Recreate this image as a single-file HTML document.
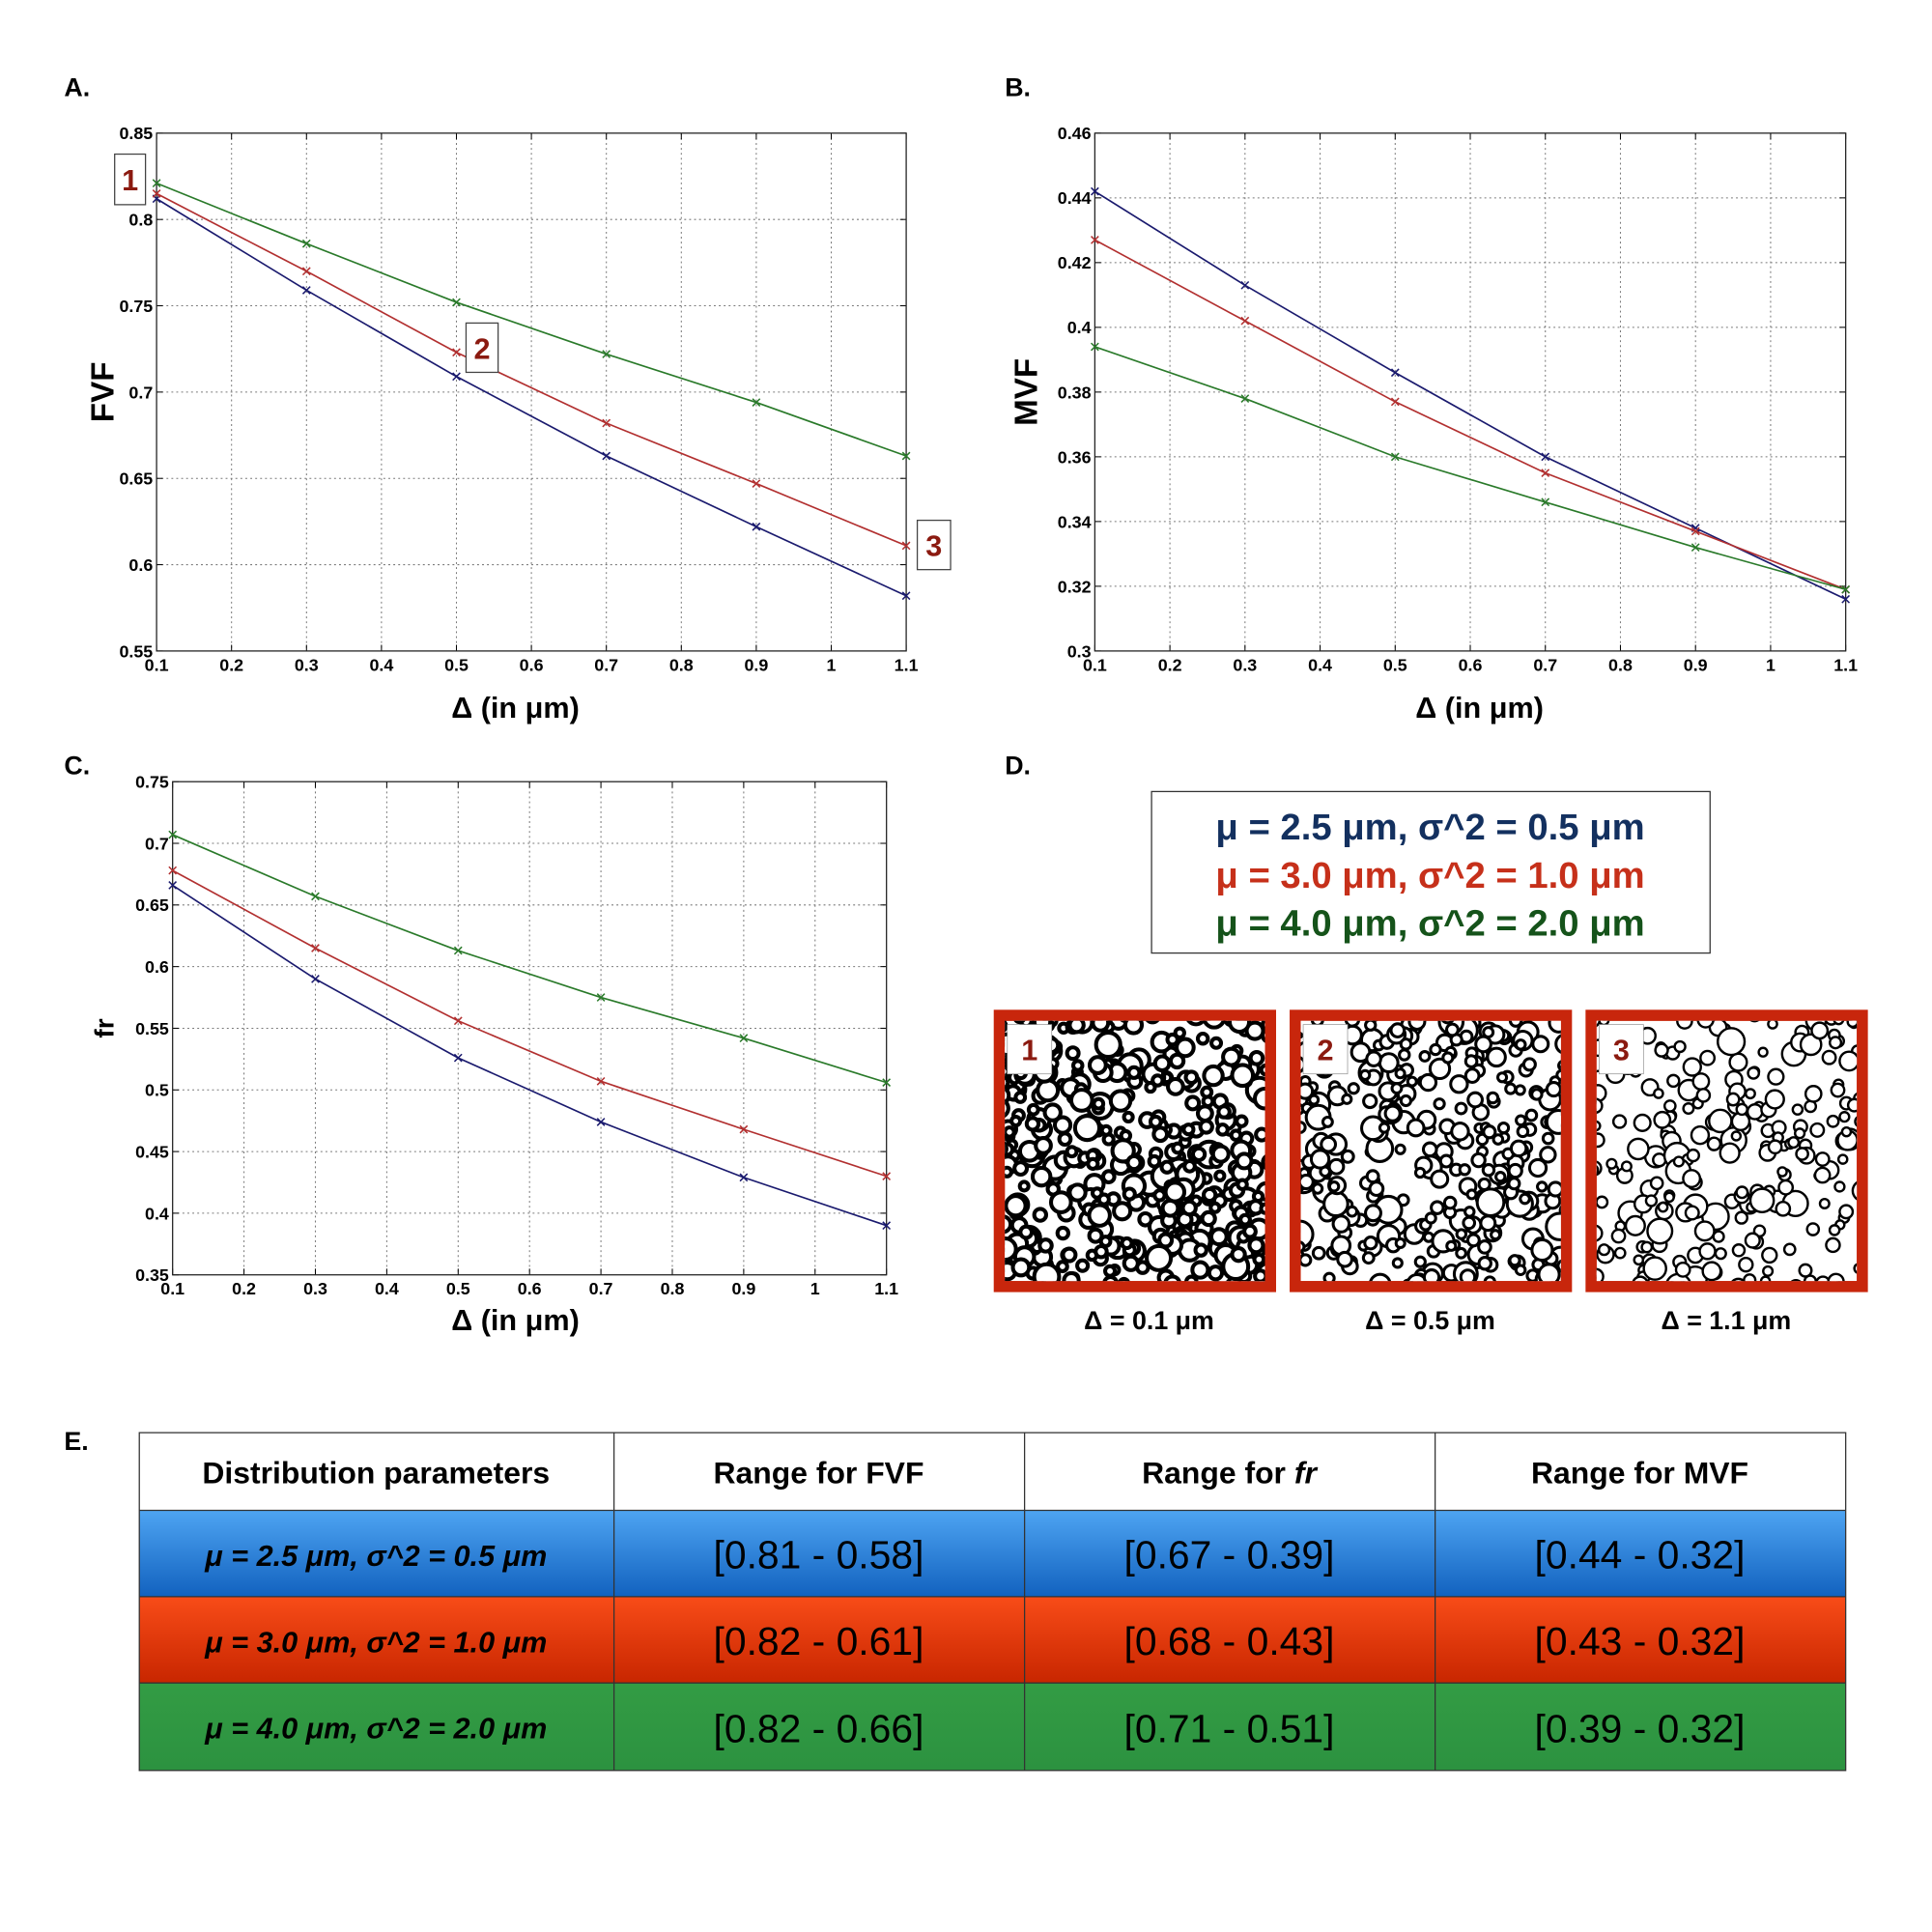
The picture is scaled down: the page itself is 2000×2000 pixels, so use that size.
<!DOCTYPE html>
<html><head><meta charset="utf-8"><style>
html,body{margin:0;padding:0;background:#fff;}
svg{display:block;font-family:"Liberation Sans",Arial,sans-serif;}
</style></head><body>
<svg id="fig" width="2000" height="2000" viewBox="0 0 1567 1567" xmlns="http://www.w3.org/2000/svg">
<defs>
<linearGradient id="gBlue" x1="0" y1="0" x2="0" y2="1"><stop offset="0" stop-color="#4ea4f2"/><stop offset="1" stop-color="#1262bf"/></linearGradient>
<linearGradient id="gRed" x1="0" y1="0" x2="0" y2="1"><stop offset="0" stop-color="#f84c18"/><stop offset="1" stop-color="#c82600"/></linearGradient>
<linearGradient id="gGreen" x1="0" y1="0" x2="0" y2="1"><stop offset="0" stop-color="#339c44"/><stop offset="1" stop-color="#2c9240"/></linearGradient>
</defs>
<g id="charts"></g>
<g id="panelD">
<text x="815" y="628" font-size="21" font-weight="bold">D.</text>
<rect x="934" y="642" width="453" height="131" fill="#fff" stroke="#333" stroke-width="1"/>
<text x="1160" y="681" font-size="30" font-weight="bold" fill="#13305f" text-anchor="middle">μ = 2.5 μm, σ^2 = 0.5 μm</text>
<text x="1160" y="720" font-size="30" font-weight="bold" fill="#c6301a" text-anchor="middle">μ = 3.0 μm, σ^2 = 1.0 μm</text>
<text x="1160" y="759" font-size="30" font-weight="bold" fill="#15531a" text-anchor="middle">μ = 4.0 μm, σ^2 = 2.0 μm</text>
<g id="micro"></g>
</g>
<g id="panelE">
<text x="52" y="1176" font-size="21" font-weight="bold">E.</text>
<rect x="113" y="1162" width="1384" height="63" fill="#fff"/>
<rect x="113" y="1225" width="1384" height="70" fill="url(#gBlue)"/>
<rect x="113" y="1295" width="1384" height="70" fill="url(#gRed)"/>
<rect x="113" y="1365" width="1384" height="71" fill="url(#gGreen)"/>
<g stroke="#333" stroke-width="1" fill="none">
<rect x="113" y="1162" width="1384" height="274"/>
<line x1="113" y1="1225" x2="1497" y2="1225"/><line x1="113" y1="1295" x2="1497" y2="1295"/><line x1="113" y1="1365" x2="1497" y2="1365"/>
<line x1="498" y1="1162" x2="498" y2="1436"/><line x1="831" y1="1162" x2="831" y2="1436"/><line x1="1164" y1="1162" x2="1164" y2="1436"/>
</g>
<g font-size="25" font-weight="bold" text-anchor="middle">
<text x="305" y="1203">Distribution parameters</text>
<text x="664" y="1203">Range for FVF</text>
<text x="997" y="1203">Range for <tspan font-style="italic">fr</tspan></text>
<text x="1330" y="1203">Range for MVF</text>
</g>
<g font-size="24" font-weight="bold" font-style="italic" text-anchor="middle">
<text x="305" y="1270">μ = 2.5 μm,  σ^2 = 0.5 μm</text>
<text x="305" y="1340">μ = 3.0 μm,  σ^2 = 1.0 μm</text>
<text x="305" y="1410">μ = 4.0 μm,  σ^2 = 2.0 μm</text>
</g>
<g font-size="32" text-anchor="middle">
<text x="664" y="1272">[0.81 - 0.58]</text>
<text x="997" y="1272">[0.67 - 0.39]</text>
<text x="1330" y="1272">[0.44 - 0.32]</text>
<text x="664" y="1342">[0.82 - 0.61]</text>
<text x="997" y="1342">[0.68 - 0.43]</text>
<text x="1330" y="1342">[0.43 - 0.32]</text>
<text x="664" y="1413">[0.82 - 0.66]</text>
<text x="997" y="1413">[0.71 - 0.51]</text>
<text x="1330" y="1413">[0.39 - 0.32]</text>
</g>
</g>
</svg>
<script>
const xValues=[0.1,0.3,0.5,0.7,0.9,1.1];
const xTicks=[0.1,0.2,0.3,0.4,0.5,0.6,0.7,0.8,0.9,1,1.1];
const xTickLabels=["0.1","0.2","0.3","0.4","0.5","0.6","0.7","0.8","0.9","1","1.1"];
const fvfBlue=[0.812,0.759,0.709,0.663,0.622,0.582];
const fvfRed=[0.815,0.770,0.723,0.682,0.647,0.611];
const fvfGreen=[0.821,0.786,0.752,0.722,0.694,0.663];
const fvfTicks=[0.55,0.6,0.65,0.7,0.75,0.8,0.85];
const fvfTickLabels=["0.55","0.6","0.65","0.7","0.75","0.8","0.85"];
const mvfBlue=[0.442,0.413,0.386,0.360,0.338,0.316];
const mvfRed=[0.427,0.402,0.377,0.355,0.337,0.319];
const mvfGreen=[0.394,0.378,0.360,0.346,0.332,0.319];
const mvfTicks=[0.3,0.32,0.34,0.36,0.38,0.4,0.42,0.44,0.46];
const mvfTickLabels=["0.3","0.32","0.34","0.36","0.38","0.4","0.42","0.44","0.46"];
const frBlue=[0.666,0.590,0.526,0.474,0.429,0.390];
const frRed=[0.678,0.615,0.556,0.507,0.468,0.430];
const frGreen=[0.707,0.657,0.613,0.575,0.542,0.506];
const frTicks=[0.35,0.4,0.45,0.5,0.55,0.6,0.65,0.7,0.75];
const frTickLabels=["0.35","0.4","0.45","0.5","0.55","0.6","0.65","0.7","0.75"];

const NS="http://www.w3.org/2000/svg";
function mk(tag,attrs,parent){const e=document.createElementNS(NS,tag);for(const k in attrs)e.setAttribute(k,attrs[k]);parent.appendChild(e);return e;}
const charts=document.getElementById('charts');

function chart(cfg){
  const g=mk('g',{},charts);
  
  
  const {x0,x1,y0,y1,ymin,ymax}=cfg;
  const sx=v=>x0+(v-0.1)/(1.0)*(x1-x0);
  const sy=v=>y1-(v-ymin)/(ymax-ymin)*(y1-y0);
  mk('rect',{x:x0,y:y0,width:x1-x0,height:y1-y0,fill:'#fff'},g);
  xTicks.forEach((t,i)=>{
    const X=sx(t);
    if(i>0&&i<xTicks.length-1){const l=mk('line',{x1:X,y1:y0,x2:X,y2:y1,stroke:'#777','stroke-width':0.8,'stroke-dasharray':'1.5,2.5'},g);
    }
    mk('line',{x1:X,y1:y1,x2:X,y2:y1-5,stroke:'#000','stroke-width':0.8},g);
    mk('line',{x1:X,y1:y0,x2:X,y2:y0+5,stroke:'#000','stroke-width':0.8},g);
    const tx=mk('text',{x:X,y:y1+16,'font-size':14,'font-weight':'bold','text-anchor':'middle'},g);
    tx.textContent=xTickLabels[i];
    
  });
  cfg.yTicks.forEach((t,i)=>{
    const Y=sy(t);
    if(i>0&&i<cfg.yTicks.length-1){const l=mk('line',{x1:x0,y1:Y,x2:x1,y2:Y,stroke:'#777','stroke-width':0.8,'stroke-dasharray':'1.5,2.5'},g);
    }
    mk('line',{x1:x0,y1:Y,x2:x0+5,y2:Y,stroke:'#000','stroke-width':0.8},g);
    mk('line',{x1:x1,y1:Y,x2:x1-5,y2:Y,stroke:'#000','stroke-width':0.8},g);
    const tx=mk('text',{x:x0-3,y:Y+5,'font-size':14,'font-weight':'bold','text-anchor':'end'},g);
    tx.textContent=cfg.yTickLabels[i];
    
  });
  const fr=mk('rect',{x:x0,y:y0,width:x1-x0,height:y1-y0,fill:'none',stroke:'#222','stroke-width':1},g);
  
  cfg.series.forEach(s=>{
    const pts=xValues.map((v,i)=>sx(v)+','+sy(s.data[i])).join(' ');
    const pl=mk('polyline',{points:pts,fill:'none',stroke:s.color,'stroke-width':1.3},g);
    
    xValues.forEach((v,i)=>{
      const X=sx(v),Y=sy(s.data[i]);
      const p=mk('path',{d:`M${X-3},${Y-3}L${X+3},${Y+3}M${X-3},${Y+3}L${X+3},${Y-3}`,stroke:s.color,'stroke-width':1.2},g);
      
    });
  });
  const pl=mk('text',{x:cfg.lx,y:cfg.ly,'font-size':21,'font-weight':'bold'},g);
  pl.textContent=cfg.label;
  const xt=mk('text',{x:cfg.xtx,y:cfg.xty,'font-size':24,'font-weight':'bold','text-anchor':'middle'},g);
  xt.textContent='Δ (in μm)';
  const yt=mk('text',{x:0,y:0,'font-size':cfg.ytSize,'font-weight':'bold','text-anchor':'middle',transform:`translate(${cfg.ytx},${(y0+y1)/2}) rotate(-90)`},g);
  yt.textContent=cfg.ytitle;
  return {g,sx,sy};
}
const A=chart({name:'chart-fvf',x0:127,x1:735,y0:108,y1:528,ymin:0.55,ymax:0.85,yTicks:fvfTicks,yTickLabels:fvfTickLabels,
  series:[{name:'fvf-blue-line',color:'#1a1a6e',data:fvfBlue},{name:'fvf-red-line',color:'#b23030',data:fvfRed},{name:'fvf-green-line',color:'#2a7a2a',data:fvfGreen}],
  label:'A.',lx:52,ly:78,xtx:418,xty:582,ytitle:'FVF',ytx:92,ytSize:26});
chart({name:'chart-mvf',x0:888,x1:1497,y0:108,y1:528,ymin:0.30,ymax:0.46,yTicks:mvfTicks,yTickLabels:mvfTickLabels,
  series:[{name:'mvf-blue-line',color:'#1a1a6e',data:mvfBlue},{name:'mvf-red-line',color:'#b23030',data:mvfRed},{name:'mvf-green-line',color:'#2a7a2a',data:mvfGreen}],
  label:'B.',lx:815,ly:78,xtx:1200,xty:582,ytitle:'MVF',ytx:841,ytSize:26});
chart({name:'chart-fr',x0:140,x1:719,y0:634,y1:1034,ymin:0.35,ymax:0.75,yTicks:frTicks,yTickLabels:frTickLabels,
  series:[{name:'fr-blue-line',color:'#1a1a6e',data:frBlue},{name:'fr-red-line',color:'#b23030',data:frRed},{name:'fr-green-line',color:'#2a7a2a',data:frGreen}],
  label:'C.',lx:52,ly:628,xtx:418,xty:1079,ytitle:'fr',ytx:92,ytSize:22});
[[93,125,25,41,'1'],[378,262,26,40,'2'],[744,422,27,40,'3']].forEach(b=>{
  const r=mk('rect',{x:b[0],y:b[1],width:b[2],height:b[3],fill:'#fff',stroke:'#444','stroke-width':1},A.g);
  
  const t=mk('text',{x:b[0]+b[2]/2,y:b[1]+b[3]/2+9,'font-size':24,'font-weight':'bold',fill:'#8b1a10','text-anchor':'middle'},A.g);
  t.textContent=b[4];
});
// micrographs (decorative texture)
const micro=document.getElementById('micro');
let seed=7;function rnd(){seed=(seed*16807)%2147483647;return seed/2147483647;}
[[806,'1','Δ = 0.1 μm',3.2,420],[1046,'2','Δ = 0.5 μm',2.4,330],[1286,'3','Δ = 1.1 μm',1.9,240]].forEach(p=>{
  const [x,num,cap,sw,n]=p;
  const g=mk('g',{},micro);
  
  mk('rect',{x:x,y:819,width:229,height:229,fill:'#c8260c'},g);
  const ix=x+9,iy=828,w=211,h=211;
  const cid='clip'+num;
  const cp=mk('clipPath',{id:cid},g);mk('rect',{x:ix,y:iy,width:w,height:h},cp);
  const inner=mk('g',{'clip-path':`url(#${cid})`},g);
  mk('rect',{x:ix,y:iy,width:w,height:h,fill:'#fff'},inner);
  for(let i=0;i<n;i++){
    const r=3.5+rnd()*rnd()*8;
    mk('circle',{cx:ix-5+rnd()*(w+10),cy:iy-5+rnd()*(h+10),r:r,fill:'#fff',stroke:'#000','stroke-width':sw},inner);
  }
  mk('rect',{x:x+11,y:831,width:36,height:40,fill:'#fff',stroke:'#999','stroke-width':0.6},g);
  const t=mk('text',{x:x+29,y:860,'font-size':24,'font-weight':'bold',fill:'#8b1a10','text-anchor':'middle'},g);
  t.textContent=num;
  const c=mk('text',{x:x+(num==='1'?126:114),y:1078,'font-size':21,'font-weight':'bold','text-anchor':'middle'},g);
  c.textContent=cap;
});
</script>
</body></html>
